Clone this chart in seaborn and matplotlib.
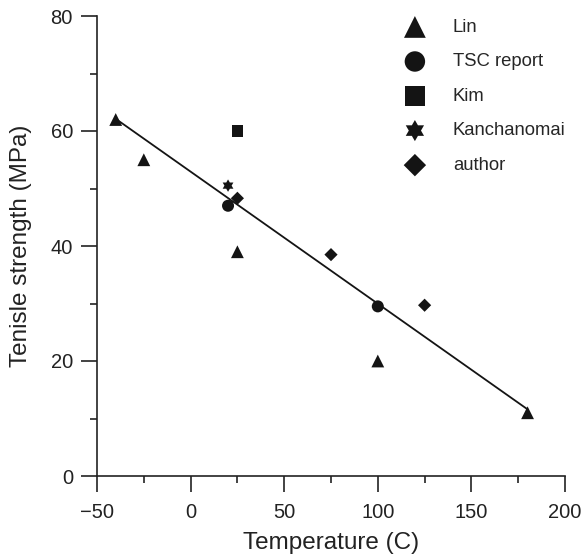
import matplotlib
matplotlib.use("Agg")
import matplotlib.pyplot as plt
import seaborn as sns
import pandas as pd
import numpy as np
from matplotlib.path import Path
from matplotlib.ticker import MultipleLocator

sns.set_theme(style="ticks")
plt.rcParams['font.family'] = ['Liberation Sans', 'DejaVu Sans']

# Data
lin_x = [-40, -25, 25, 100, 180]
lin_y = [62, 55, 39, 20, 11]
tsc_x = [20, 100]
tsc_y = [47, 29.5]
kim_x = [25]
kim_y = [60]
kan_x = [20]
kan_y = [50.5]
author_x = [25, 75, 125]
author_y = [48.3, 38.5, 29.7]
sources = ["Lin", "TSC report", "Kim", "Kanchanomai", "author"]
x_tick_labels = ["\u221250", "0", "50", "100", "150", "200"]

rows = []
for name, xs, ys in zip(sources, [lin_x, tsc_x, kim_x, kan_x, author_x],
                        [lin_y, tsc_y, kim_y, kan_y, author_y]):
    for a, b in zip(xs, ys):
        rows.append({"Temperature": a, "Strength": b, "Source": name})
df = pd.DataFrame(rows)

# hexagram (Star of David) marker
ang = np.deg2rad(90 + 30 * np.arange(12))
rad = np.where(np.arange(12) % 2 == 0, 1.0, 1 / np.sqrt(3))
verts = np.column_stack([rad * np.cos(ang), rad * np.sin(ang)])
verts = np.vstack([verts, verts[:1]])
codes = [Path.MOVETO] + [Path.LINETO] * 11 + [Path.CLOSEPOLY]
hexagram = Path(verts, codes)

markers = {"Lin": "^", "TSC report": "o", "Kim": "s", "Kanchanomai": hexagram, "author": "D"}
sizes_map = {"Lin": 85, "TSC report": 75, "Kim": 72, "Kanchanomai": 80, "author": 45}

fig = plt.figure(figsize=(5.85, 5.6), dpi=100)
ax = fig.add_axes([97 / 585, 84 / 560, 468 / 585, 460 / 560])

dark = "#141414"
sns.regplot(data=df, x="Temperature", y="Strength", ax=ax, scatter=False, ci=None,
            line_kws={"color": dark, "lw": 1.3})
for name in sources:
    sub = df[df["Source"] == name]
    sns.scatterplot(data=sub, x="Temperature", y="Strength", ax=ax, marker=markers[name],
                    s=sizes_map[name], color=dark, edgecolor="none", linewidth=0, label=name)

ax.set_xlim(-50, 200)
ax.set_ylim(0, 80)
ax.set_xticks([-50, 0, 50, 100, 150, 200])
ax.set_xticklabels(x_tick_labels)
ax.xaxis.set_minor_locator(MultipleLocator(25))
ax.yaxis.set_major_locator(MultipleLocator(20))
ax.yaxis.set_minor_locator(MultipleLocator(10))
sns.despine(ax=ax)
for sp in ["left", "bottom"]:
    ax.spines[sp].set_linewidth(1.2)
    ax.spines[sp].set_color("#222222")
ax.tick_params(which="major", direction="out", length=11.3, width=1.2, labelsize=14.5,
               colors="#222222", labelcolor="#222222", pad=6)
ax.tick_params(axis="x", which="major", pad=8)
ax.tick_params(which="minor", direction="out", length=5.3, width=1.2, colors="#222222")
ax.set_xlabel("Temperature (C)", fontsize=17.5, color="#222222", labelpad=7)
ax.set_ylabel("Tenisle strength (MPa)", fontsize=17.5, color="#222222", labelpad=13.5)

leg = ax.legend(loc="upper left", bbox_to_anchor=(0.624, 1.01), frameon=False, fontsize=13.3,
                markerscale=1.7, labelspacing=0.95, handletextpad=1.05, borderaxespad=0)
ax.patch.set_alpha(0)
fig.savefig("out.png", dpi=100)
